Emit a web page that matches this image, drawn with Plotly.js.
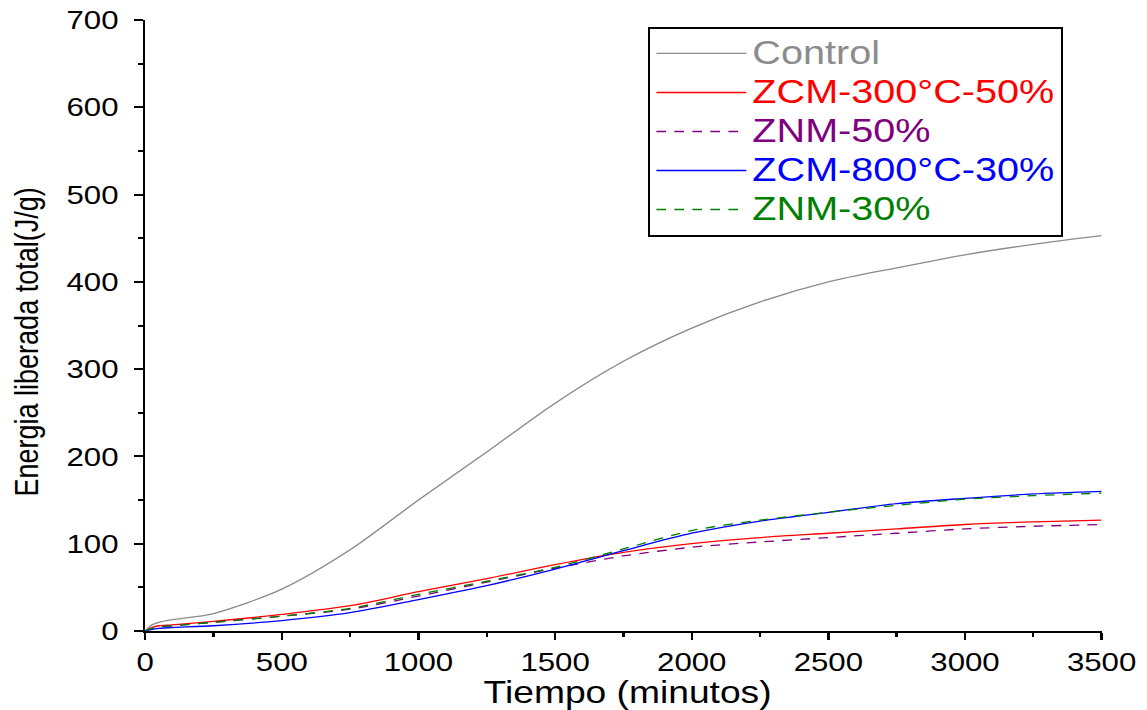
<!DOCTYPE html>
<html>
<head>
<meta charset="utf-8">
<script src="https://cdn.plot.ly/plotly-3.0.1.min.js"></script>
<style>
  html, body { margin: 0; padding: 0; background: #fff; width: 1147px; height: 710px; overflow: hidden; }
  /* the figure is laid out narrower and widened horizontally */
  #chart { width: 956px; height: 710px; transform: scaleX(1.2); transform-origin: 0 0; }
</style>
</head>
<body>
<div id="chart"></div>
<script>
// Tiempo (minutos)
const tiempo = [0, 25, 50, 100, 250, 500, 750, 1000, 1250, 1500, 1750, 2000, 2250, 2500, 2750, 3000, 3250, 3500];

// Energia liberada total (J/g)
const control    = [0, 7, 10, 13, 20, 48, 93, 150, 205, 261, 309, 347, 377, 400, 416, 431, 443, 453];
const zcm300_50  = [0, 4, 6, 7, 11, 19, 29, 45, 60, 76, 90, 100, 107, 112, 117, 122, 125, 127];
const znm50      = [0, 3, 5, 6, 10, 17, 25, 40, 56, 72, 86, 96, 102, 107, 112, 117, 120, 122];
const zcm800_30  = [0, 2, 3, 4, 6, 12, 21, 36, 52, 71, 92, 112, 126, 136, 146, 152, 157, 160];
const znm30      = [0, 3, 5, 6, 10, 17, 26, 42, 57, 73, 94, 115, 127, 136, 144, 151, 155, 158];

const seriesNames  = ['Control', 'ZCM-300°C-50%', 'ZNM-50%', 'ZCM-800°C-30%', 'ZNM-30%'];
const seriesValues = [control, zcm300_50, znm50, zcm800_30, znm30];
const seriesColors = ['#8c8c8c', '#ff0000', '#800080', '#0000ff', '#008000'];
const seriesDash   = ['solid', 'solid', '8px,7px', 'solid', '8px,7px'];

const FONT = 'Liberation Sans, Arial, Helvetica, sans-serif';

const traces = seriesNames.map((name, i) => ({
  x: tiempo,
  y: seriesValues[i],
  type: 'scatter',
  mode: 'lines',
  name: '<span style="color:' + seriesColors[i] + ';font-size:33px">' + name + '</span>',
  line: { color: seriesColors[i], width: 1.3, dash: seriesDash[i], shape: 'spline', smoothing: 0.8 },
  hoverinfo: 'x+y'
}));

const axisCommon = {
  showline: true,
  linecolor: '#000',
  linewidth: 2,
  ticks: 'outside',
  ticklen: 7,
  tickwidth: 2,
  tickcolor: '#000',
  showgrid: false,
  zeroline: false,
  tickfont: { family: FONT, size: 26, color: '#000' }
};

const layout = {
  width: 956,
  height: 710,
  margin: { l: 120.8, r: 37.7, t: 20, b: 78.5 },
  paper_bgcolor: '#fff',
  plot_bgcolor: '#fff',
  font: { family: FONT, color: '#000' },
  showlegend: true,
  legend: {
    x: 0.5257, y: 0.9886, xanchor: 'left', yanchor: 'top',
    bgcolor: '#fff', bordercolor: '#000', borderwidth: 2,
    font: { family: FONT, size: 27.7, color: '#000' },
    itemwidth: 75,
    traceorder: 'normal'
  },
  xaxis: Object.assign({}, axisCommon, {
    range: [0, 3500], dtick: 500, tick0: 0,
    minor: { dtick: 250, ticklen: 4, tickwidth: 2, tickcolor: '#000', ticks: 'outside', showgrid: false }
  }),
  yaxis: Object.assign({}, axisCommon, {
    range: [0, 700], dtick: 100, tick0: 0, ticklabelstandoff: 8,
    minor: { dtick: 50, ticklen: 4, tickwidth: 2, tickcolor: '#000', ticks: 'outside', showgrid: false }
  }),
  annotations: [
    {
      text: 'Tiempo (minutos)', xref: 'paper', yref: 'paper',
      x: 0.5047, y: -0.0695, xanchor: 'center', yanchor: 'top',
      showarrow: false, font: { family: FONT, size: 31, color: '#000' }
    },
    {
      text: 'Energia liberada total(J/g)', xref: 'paper', yref: 'paper',
      x: -0.1233, y: 0.4734, xanchor: 'center', yanchor: 'middle', textangle: -90,
      showarrow: false, font: { family: FONT, size: 27, color: '#000' }
    }
  ]
};

Plotly.newPlot('chart', traces, layout, { staticPlot: true, displayModeBar: false });
</script>
</body>
</html>
